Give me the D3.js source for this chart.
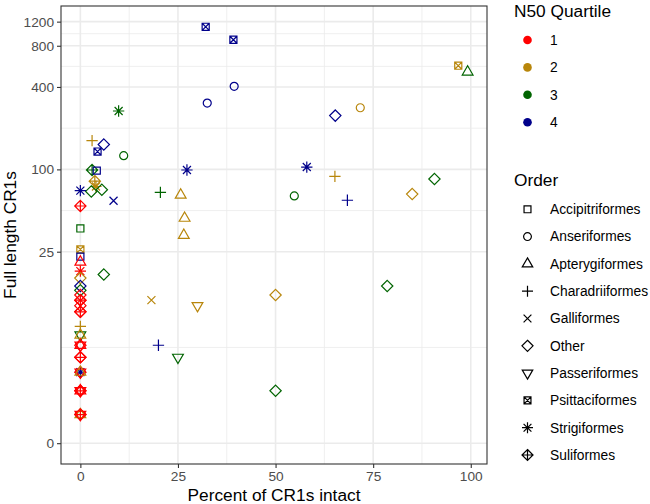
<!DOCTYPE html>
<html><head><meta charset="utf-8">
<script src="https://cdn.jsdelivr.net/npm/d3@7"></script>
<style>body{margin:0;background:#fff}svg{display:block}text{font-family:"Liberation Sans",Arial,sans-serif}</style>
</head><body><svg id="c" width="650" height="504"></svg>
<script>
// ---- data ----
const orders = ["Accipitriformes","Anseriformes","Apterygiformes","Charadriiformes","Galliformes","Other","Passeriformes","Psittaciformes","Strigiformes","Suliformes"];
const quartiles = ["1","2","3","4"];
const xTicks = [0,25,50,75,100];
const yTicks = [0,25,100,400,800,1200];

const pctIntact = [32.1,39.2,96.8,99.2,39.4,32.5,71.7,65.3,9.8,3.0,6.0,4.4,11.1,3.0,4.2,27.3,58.0,65.2,90.7,3.7,4.0,2.8,5.5,25.7,20.5,54.8,85.0,8.5,68.4,26.7,26.5,6.0,18.2,30.0,50.0,78.6,20.0,25.0,50.0,
  0,0,0,0,0,0,0,0,0,0,0,0,0,0,0,0,0,0,0,0,0,0,0,0,0,0,0,0,0,0,0,0,0,0,0,0];
const fullLength = [1100,885,572,515,404,305,282,247,267,162,152,135,126,99,98,99,104,89,85,82,75,69,71,65,68,64,66,59,59.5,44,33,17,11,10,12,14,5,4,2,
  70,54,37,26,23,21,18,16,14,13,12,11,11,10,9,9,7,6,6,5,5,5,4,4,3,3,3,3,2,2,2,2,1,1,1,1];
const orderOf = ["Psittaciformes","Psittaciformes","Psittaciformes","Apterygiformes","Anseriformes","Anseriformes","Anseriformes","Other","Strigiformes","Charadriiformes","Other","Psittaciformes","Anseriformes","Suliformes","Accipitriformes","Strigiformes","Strigiformes","Charadriiformes","Other","Suliformes","Strigiformes","Other","Other","Apterygiformes","Charadriiformes","Anseriformes","Other","Galliformes","Charadriiformes","Apterygiformes","Apterygiformes","Other","Galliformes","Passeriformes","Other","Other","Charadriiformes","Passeriformes","Other",
  "Strigiformes","Suliformes","Accipitriformes","Psittaciformes","Accipitriformes","Apterygiformes","Strigiformes","Other","Other","Other","Other","Other","Suliformes","Other","Other","Suliformes","Charadriiformes","Passeriformes","Apterygiformes","Other","Apterygiformes","Passeriformes","Other","Suliformes","Strigiformes","Other","Passeriformes","Apterygiformes","Other","Passeriformes","Suliformes","Apterygiformes","Other","Passeriformes","Apterygiformes","Suliformes"];
const quartileOf = ["4","4","2","3","4","4","2","4","3","2","4","4","3","3","4","4","4","2","3","2","2","3","3","2","3","3","2","4","4","2","2","3","2","2","2","3","4","3","3",
  "4","1","3","2","4","1","1","2","4","3","1","1","1","1","1","1","2","3","2","1","1","1","1","1","4","1","1","2","1","1","1","1","1","1","2","1"];

// ---- styles ----
const colorRange = ["#FF0000","#B8860B","#006400","#00008B"];
const panel = {l: 61, r: 487, t: 6, b: 464};
const svg = d3.select("#c");

const xDomRaw = d3.extent(pctIntact);
const xPad = (xDomRaw[1]-xDomRaw[0])*0.05;
const x = d3.scaleLinear().domain([xDomRaw[0]-xPad, xDomRaw[1]+xPad]).range([panel.l, panel.r]);
const tr = v => Math.asinh(v/2);
const tMin = tr(0), tMax = tr(d3.max(fullLength));
const tPad = (tMax - tMin)*0.05;
const yLin = d3.scaleLinear().domain([tMin - tPad, tMax + tPad]).range([panel.b, panel.t]);
const y = v => yLin(tr(v));
const color = d3.scaleOrdinal().domain(quartiles).range(colorRange);

// grid
const g = svg.append("g");
const xMinor = xTicks.slice(0,-1).map((d,i)=> (d + xTicks[i+1])/2);
const yMinorT = yTicks.slice(0,-1).map((d,i)=> (tr(d)+tr(yTicks[i+1]))/2);
g.selectAll(".xm").data(xMinor).join("line").attr("x1",d=>x(d)).attr("x2",d=>x(d)).attr("y1",panel.t).attr("y2",panel.b).attr("stroke","#EBEBEB").attr("stroke-width",0.8);
g.selectAll(".ym").data(yMinorT).join("line").attr("y1",d=>yLin(d)).attr("y2",d=>yLin(d)).attr("x1",panel.l).attr("x2",panel.r).attr("stroke","#EBEBEB").attr("stroke-width",0.8);
g.selectAll(".xM").data(xTicks).join("line").attr("x1",d=>x(d)).attr("x2",d=>x(d)).attr("y1",panel.t).attr("y2",panel.b).attr("stroke","#EBEBEB").attr("stroke-width",1.6);
g.selectAll(".yM").data(yTicks).join("line").attr("y1",d=>y(d)).attr("y2",d=>y(d)).attr("x1",panel.l).attr("x2",panel.r).attr("stroke","#EBEBEB").attr("stroke-width",1.6);

// shapes (R pch geometry)
const R = 4.0;
function shapePath(o, r){
  const s = 0.8862*r, d = Math.SQRT2*r;
  const t0 = 1.5551*r, t1 = 1.3468*r, t2 = 0.7776*r;
  switch(o){
    case "Accipitriformes": return `M${-s},${-s}H${s}V${s}H${-s}Z`;
    case "Anseriformes": return `M${r},0A${r},${r} 0 1 1 ${-r},0A${r},${r} 0 1 1 ${r},0Z`;
    case "Apterygiformes": return `M0,${-t0}L${t1},${t2}L${-t1},${t2}Z`;
    case "Charadriiformes": return `M${-d},0H${d}M0,${-d}V${d}`;
    case "Galliformes": return `M${-r},${-r}L${r},${r}M${-r},${r}L${r},${-r}`;
    case "Other": return `M0,${-d}L${d},0L0,${d}L${-d},0Z`;
    case "Passeriformes": return `M0,${t0}L${t1},${-t2}L${-t1},${-t2}Z`;
    case "Psittaciformes": return `M${-s},${-s}H${s}V${s}H${-s}ZM${-s},${-s}L${s},${s}M${-s},${s}L${s},${-s}`;
    case "Strigiformes": return `M${-r},${-r}L${r},${r}M${-r},${r}L${r},${-r}M${-d},0H${d}M0,${-d}V${d}`;
    case "Suliformes": return `M0,${-d}L${d},0L0,${d}L${-d},0ZM${-d},0H${d}M0,${-d}V${d}`;
  }
}

const pts = pctIntact.map((p,i)=>({p, f: fullLength[i], o: orderOf[i], q: quartileOf[i]}));
svg.append("g").selectAll("path").data(pts).join("path")
  .attr("transform", d=>`translate(${x(d.p)},${y(d.f)})`)
  .attr("d", d=>shapePath(d.o, R))
  .attr("fill","none").attr("stroke", d=>color(d.q)).attr("stroke-width",1.2);

// border
svg.append("rect").attr("x",panel.l).attr("y",panel.t).attr("width",panel.r-panel.l).attr("height",panel.b-panel.t)
  .attr("fill","none").attr("stroke","#333333").attr("stroke-width",1.1);

// axes
const ax = svg.append("g").attr("transform",`translate(0,${panel.b})`)
  .call(d3.axisBottom(x).tickValues(xTicks).tickSize(4).tickPadding(3).tickFormat(d3.format("d")));
const yAxisScale = d3.scaleLinear().domain(yLin.domain()).range(yLin.range());
const ay = svg.append("g").attr("transform",`translate(${panel.l},0)`)
  .call(d3.axisLeft(yAxisScale).tickValues(yTicks.map(tr)).tickSize(4).tickPadding(3).tickFormat((d,i)=>yTicks[i]));
[ax, ay].forEach(a=>{
  a.select(".domain").remove();
  a.selectAll(".tick line").attr("stroke","#333333").attr("stroke-width",1.1);
  a.selectAll(".tick text").attr("fill","#4D4D4D").style("font-size","13.7px").style("font-family","'Liberation Sans',Arial,sans-serif");
});

svg.append("text").attr("x",(panel.l+panel.r)/2).attr("y",501).attr("text-anchor","middle")
  .style("font-size","17.3px").text("Percent of CR1s intact");
svg.append("text").attr("transform",`translate(16,${(panel.t+panel.b)/2}) rotate(-90)`).attr("text-anchor","middle")
  .style("font-size","17.3px").text("Full length CR1s");

// legends
const lg1 = svg.append("g");
lg1.append("text").attr("x",514).attr("y",17).style("font-size","17.3px").text("N50 Quartile");
quartiles.forEach((q,i)=>{
  const yy = 40 + i*27.4;
  lg1.append("circle").attr("cx",527.5).attr("cy",yy).attr("r",4.3).attr("fill",color(q));
  lg1.append("text").attr("x",550).attr("y",yy).attr("dy","0.35em").style("font-size","13.8px").text(q);
});
const lg2 = svg.append("g");
lg2.append("text").attr("x",514).attr("y",185.5).style("font-size","17.3px").text("Order");
orders.forEach((o,i)=>{
  const yy = 209.3 + i*27.3;
  lg2.append("path").attr("transform",`translate(527.5,${yy})`).attr("d",shapePath(o,3.9))
    .attr("fill","none").attr("stroke","#000").attr("stroke-width",1.2);
  lg2.append("text").attr("x",550).attr("y",yy).attr("dy","0.35em").style("font-size","13.8px").text(o);
});
</script></body></html>
